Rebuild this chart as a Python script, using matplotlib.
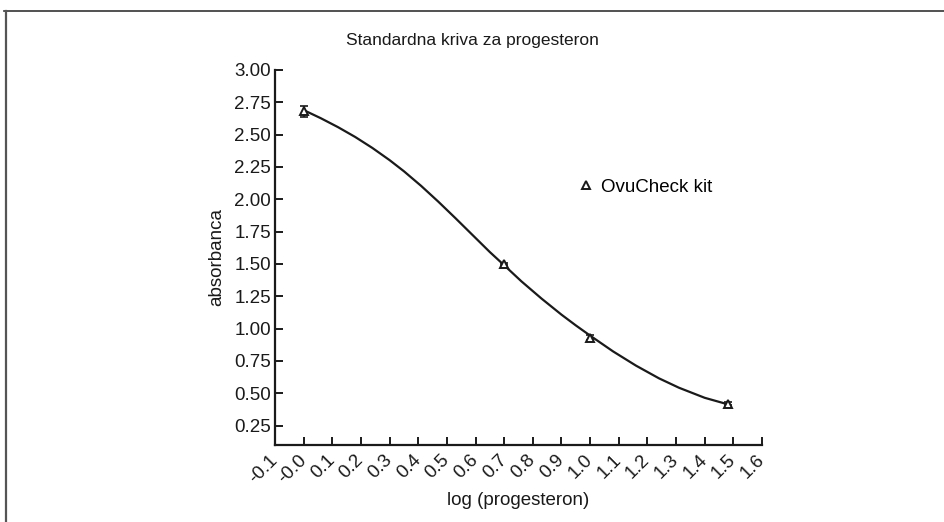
import numpy as np
import matplotlib
matplotlib.use("Agg")
import matplotlib.pyplot as plt
from matplotlib.lines import Line2D

plt.rcParams['font.family'] = ['Liberation Sans', 'DejaVu Sans']

# standard points (log concentration vs absorbance)
log_conc = [0.0, 0.70, 1.00, 1.48]
absorb = [2.68, 1.50, 0.93, 0.42]
absorb_err = [0.045, 0.01, 0.02, 0.01]

# fitted curve
curve_x = [0.0, 0.06, 0.12, 0.18, 0.24, 0.30, 0.35, 0.41, 0.47, 0.53, 0.59, 0.65,
           0.70, 0.76, 0.83, 0.90, 0.95, 1.00, 1.08, 1.16, 1.24, 1.31, 1.40, 1.48]
curve_y = [2.69, 2.627, 2.558, 2.482, 2.397, 2.303, 2.217, 2.104, 1.982, 1.854,
           1.723, 1.592, 1.49, 1.366, 1.233, 1.108, 1.025, 0.946, 0.824, 0.714,
           0.616, 0.543, 0.465, 0.415]

x_ticks = np.round(np.arange(-0.1, 1.61, 0.1), 1)
x_ticklabels = ['-0.1', '-0.0', '0.1', '0.2', '0.3', '0.4', '0.5', '0.6', '0.7',
                '0.8', '0.9', '1.0', '1.1', '1.2', '1.3', '1.4', '1.5', '1.6']
y_ticks = [0.25, 0.50, 0.75, 1.00, 1.25, 1.50, 1.75, 2.00, 2.25, 2.50, 2.75, 3.00]

ink = '#1a1a1a'
fs = 13.5

fig = plt.figure(figsize=(9.44, 5.22), dpi=100)
ax = fig.add_axes([275 / 944, 1 - 445 / 522, (762 - 275) / 944, (445 - 70) / 522])

ax.plot(curve_x, curve_y, '-', color=ink, lw=1.6, zorder=2,
        solid_joinstyle='round')
ax.errorbar(log_conc, absorb, yerr=absorb_err, fmt='none', ecolor=ink,
            elinewidth=1.2, capsize=3, capthick=1.2, zorder=3)
ax.plot(log_conc, absorb, '^', ms=6, mfc='white', mec=ink, mew=1.4,
        ls='none', zorder=4, label='OvuCheck kit')

ax.set_xlim(-0.1, 1.6)
ax.set_ylim(0.1, 3.0)
ax.set_xticks(x_ticks)
ax.set_xticklabels(x_ticklabels, rotation=45, ha='right', va='center',
                   rotation_mode='anchor')
ax.set_yticks(y_ticks)
ax.set_yticklabels([f'{v:.2f}' for v in y_ticks])

for s in ['top', 'right']:
    ax.spines[s].set_visible(False)
for s in ['left', 'bottom']:
    ax.spines[s].set_linewidth(1.6)
    ax.spines[s].set_color(ink)

ax.tick_params(axis='both', direction='in', length=5.5, width=1.4, colors=ink,
               labelsize=fs, labelcolor=ink)
ax.tick_params(axis='x', pad=9)
ax.tick_params(axis='y', pad=3)

ax.set_xlabel('log (progesteron)', fontsize=fs, color=ink, labelpad=4)
ax.set_ylabel('absorbanca', fontsize=fs, color=ink, labelpad=6)

fig.text(0.5, 1 - 41 / 522, 'Standardna kriva za progesteron', ha='center',
         va='center', fontsize=12.5, color=ink)

ax.legend(loc='center left', bbox_to_anchor=(578 / 944, 1 - 187 / 522),
          bbox_transform=fig.transFigure, frameon=False, fontsize=fs,
          handlelength=0.9, handletextpad=0.35, borderpad=0, borderaxespad=0,
          numpoints=1)

# partial frame around the picture (top and left edges)
fig.add_artist(Line2D([4 / 944, 1.0], [1 - 11 / 522] * 2, transform=fig.transFigure,
                      color='#333333', lw=1.2))
fig.add_artist(Line2D([6 / 944] * 2, [0.0, 1 - 11 / 522], transform=fig.transFigure,
                      color='#555555', lw=1.6))

fig.savefig('out.png', dpi=100)
